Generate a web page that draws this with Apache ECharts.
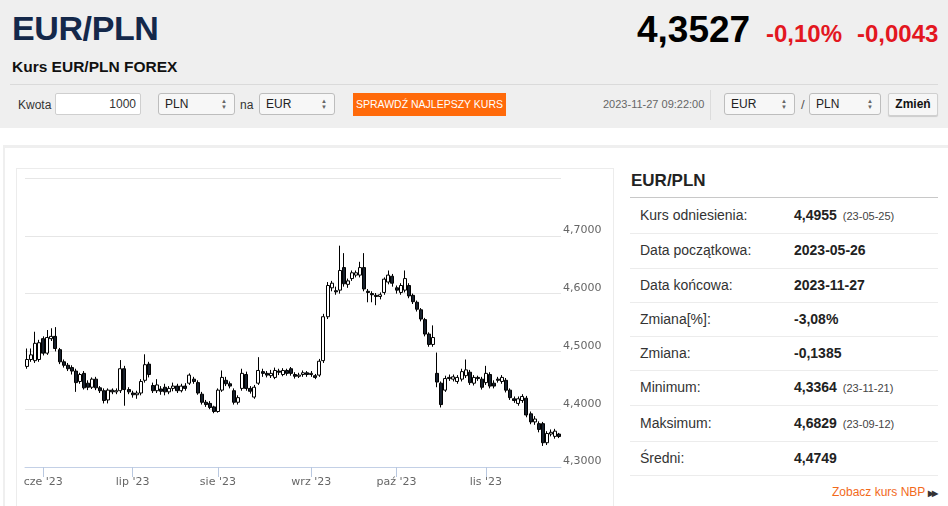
<!DOCTYPE html>
<html>
<head>
<meta charset="utf-8">
<title>Kurs EUR/PLN FOREX</title>
<script src="https://cdn.jsdelivr.net/npm/echarts@6/dist/echarts.min.js"></script>
<style>
  html, body { margin: 0; padding: 0; }
  body { width: 948px; height: 506px; position: relative; overflow: hidden; background: #fff;
         font-family: "Liberation Sans", Arial, sans-serif; color: #333; }
  .abs { position: absolute; }
  #top { left: 0; top: 0; width: 948px; height: 128px; background: #efefef; }
  #pair { left: 12px; top: 9px; font-size: 34px; font-weight: bold; color: #14284a; letter-spacing: -0.4px; }
  #sub { left: 12px; top: 58px; font-size: 15.5px; font-weight: bold; color: #111; }
  #price { left: 637px; top: 9px; font-size: 37px; font-weight: bold; color: #000; }
  .chg { top: 20px; font-size: 24px; font-weight: bold; color: #e3171f; }
  #sep { left: 10px; top: 84px; width: 928px; height: 1px; background: #dadada; }
  .lbl { font-size: 12px; color: #333; }
  .inp { height: 22px; background: #fff; border: 1px solid #cfcfcf; border-radius: 2px; box-sizing: border-box;
         font-size: 12px; line-height: 20px; text-align: right; padding-right: 4px; }
  .sel { height: 22px; background: #f7f7f7; border: 1px solid #bdbdbd; border-radius: 3px; box-sizing: border-box;
         font-size: 12px; line-height: 20px; padding-left: 6px; color: #222; }
  .sel span { position: absolute; right: 7px; top: 4px; font-size: 6px; color: #666; line-height: 6px; }
  #btn { left: 353px; top: 93px; width: 153px; height: 23px; background: #ff6a0a; color: #fff;
         font-size: 10.5px; line-height: 23px; text-align: center; }
  #stamp { left: 603px; top: 98px; font-size: 11px; color: #666; }
  #vsep { left: 710px; top: 90px; width: 1px; height: 30px; background: #dcdcdc; }
  #zmien { left: 888px; top: 93px; width: 50px; height: 23px; background: #f6f6f6; border: 1px solid #d0d0d0;
           border-radius: 2px; box-sizing: border-box; font-size: 12px; font-weight: bold; line-height: 21px;
           text-align: center; color: #111; box-shadow: 0 1px 1px rgba(0,0,0,0.15); }
  #card { left: 3px; top: 145px; width: 945px; height: 361px; border-top: 3px solid #efefef; border-left: 2px solid #efefef; box-sizing: border-box; }
  #box { left: 16px; top: 168px; width: 598px; height: 340px; border: 1px solid #ececec; box-sizing: border-box; }
  #chart { left: 16px; top: 168px; width: 598px; height: 338px; }
  #ptitle { left: 631px; top: 171px; font-size: 17px; font-weight: bold; color: #222; }
  #pline { left: 630px; top: 197px; width: 308px; height: 1px; background: #c8c8c8; }
  .rline { left: 630px; width: 308px; height: 1px; background: #ececec; }
  .rlab { left: 640px; font-size: 14px; color: #333; }
  .rval { left: 794px; font-size: 14px; font-weight: bold; color: #222; }
  .rval small { font-size: 11px; font-weight: normal; color: #444; margin-left: 6px; }
  #nbp { left: 832px; top: 485px; font-size: 12px; color: #f26a1b; }
  #nbp b { color: #333; font-size: 8px; margin-left: 3px; letter-spacing: -2px; }
</style>
</head>
<body>
<div id="top" class="abs"></div>
<div id="pair" class="abs">EUR/PLN</div>
<div id="sub" class="abs">Kurs EUR/PLN FOREX</div>
<div id="price" class="abs">4,3527</div>
<div class="abs chg" style="left:766px">-0,10%</div>
<div class="abs chg" style="left:857px">-0,0043</div>
<div id="sep" class="abs"></div>

<div class="abs lbl" style="left:18px;top:98px">Kwota</div>
<div class="abs inp" style="left:55px;top:93px;width:86px">1000</div>
<div class="abs sel" style="left:158px;top:93px;width:77px">PLN<span>&#9650;<br>&#9660;</span></div>
<div class="abs lbl" style="left:240px;top:98px">na</div>
<div class="abs sel" style="left:259px;top:93px;width:76px">EUR<span>&#9650;<br>&#9660;</span></div>
<div id="btn" class="abs">SPRAWDŹ NAJLEPSZY KURS</div>
<div id="stamp" class="abs">2023-11-27 09:22:00</div>
<div id="vsep" class="abs"></div>
<div class="abs sel" style="left:724px;top:93px;width:71px">EUR<span>&#9650;<br>&#9660;</span></div>
<div class="abs lbl" style="left:801px;top:97px;font-size:13px;color:#555">/</div>
<div class="abs sel" style="left:809px;top:93px;width:72px">PLN<span>&#9650;<br>&#9660;</span></div>
<div id="zmien" class="abs">Zmień</div>

<div id="card" class="abs"></div>
<div id="box" class="abs"></div>
<div id="chart" class="abs"></div>

<div id="ptitle" class="abs">EUR/PLN</div>
<div id="pline" class="abs"></div>
<div id="rows"></div>
<div id="nbp" class="abs">Zobacz kurs NBP<b>&#9654;&#9654;</b></div>

<script>
// dni notowań 2023-05-26 .. 2023-11-27 (bez weekendów)
const startDate = '2023-05-26';
const endDate = '2023-11-27';
const monthNames = ['sty', 'lut', 'mar', 'kwi', 'maj', 'cze', 'lip', 'sie', 'wrz', 'paź', 'lis', 'gru'];

// świece: otwarcie, zamknięcie, minimum, maksimum
const openVals = [
  4.474, 4.486, 4.484, 4.486, 4.522, 4.497, 4.522, 4.526, 4.503, 4.482,
  4.476, 4.472, 4.466, 4.448, 4.462, 4.445, 4.438, 4.452, 4.437, 4.432,
  4.416, 4.433, 4.430, 4.432, 4.470, 4.434, 4.428, 4.425, 4.428, 4.450,
  4.478, 4.441, 4.432, 4.435, 4.438, 4.430, 4.436, 4.440, 4.432, 4.440,
  4.445, 4.452, 4.446, 4.426, 4.412, 4.410, 4.404, 4.396, 4.433, 4.450,
  4.444, 4.432, 4.412, 4.436, 4.460, 4.436, 4.421, 4.445, 4.465, 4.462,
  4.458, 4.455, 4.466, 4.460, 4.467, 4.470, 4.460, 4.457, 4.460, 4.463,
  4.460, 4.458, 4.459, 4.484, 4.560, 4.610, 4.605, 4.606, 4.645, 4.616,
  4.626, 4.632, 4.632, 4.645, 4.604, 4.600, 4.597, 4.595, 4.602, 4.620,
  4.630, 4.610, 4.602, 4.606, 4.614, 4.597, 4.585, 4.572, 4.555, 4.530,
  4.512, 4.462, 4.445, 4.433, 4.453, 4.452, 4.448, 4.452, 4.458, 4.464,
  4.445, 4.455, 4.452, 4.446, 4.460, 4.445, 4.452, 4.448, 4.450, 4.433,
  4.418, 4.410, 4.415, 4.419, 4.392, 4.378, 4.375, 4.375, 4.342, 4.357,
  4.353, 4.357
];
const closeVals = [
  4.486, 4.494, 4.514, 4.515, 4.497, 4.524, 4.526, 4.505, 4.482, 4.476,
  4.470, 4.466, 4.446, 4.460, 4.437, 4.438, 4.452, 4.437, 4.432, 4.415,
  4.433, 4.430, 4.432, 4.470, 4.434, 4.430, 4.425, 4.428, 4.448, 4.477,
  4.460, 4.432, 4.442, 4.431, 4.430, 4.436, 4.440, 4.432, 4.440, 4.436,
  4.459, 4.448, 4.428, 4.412, 4.408, 4.403, 4.396, 4.433, 4.455, 4.444,
  4.440, 4.412, 4.420, 4.462, 4.436, 4.431, 4.438, 4.467, 4.462, 4.459,
  4.462, 4.467, 4.464, 4.467, 4.462, 4.462, 4.457, 4.459, 4.463, 4.460,
  4.462, 4.455, 4.483, 4.560, 4.614, 4.618, 4.603, 4.640, 4.617, 4.622,
  4.636, 4.636, 4.645, 4.608, 4.602, 4.598, 4.595, 4.598, 4.625, 4.632,
  4.618, 4.606, 4.614, 4.626, 4.596, 4.586, 4.573, 4.556, 4.530, 4.512,
  4.524, 4.447, 4.408, 4.453, 4.455, 4.456, 4.455, 4.465, 4.468, 4.446,
  4.455, 4.453, 4.438, 4.462, 4.440, 4.440, 4.450, 4.455, 4.433, 4.420,
  4.415, 4.418, 4.422, 4.390, 4.378, 4.383, 4.365, 4.342, 4.358, 4.360,
  4.362, 4.3527
];
const lowVals = [
  4.470, 4.482, 4.480, 4.482, 4.493, 4.494, 4.518, 4.500, 4.478, 4.472,
  4.466, 4.460, 4.430, 4.444, 4.434, 4.433, 4.435, 4.433, 4.428, 4.410,
  4.410, 4.426, 4.426, 4.428, 4.406, 4.426, 4.420, 4.418, 4.424, 4.446,
  4.455, 4.428, 4.428, 4.425, 4.424, 4.426, 4.431, 4.428, 4.429, 4.432,
  4.442, 4.444, 4.425, 4.408, 4.404, 4.400, 4.393, 4.394, 4.430, 4.440,
  4.436, 4.408, 4.408, 4.432, 4.432, 4.427, 4.418, 4.442, 4.456, 4.455,
  4.454, 4.452, 4.459, 4.457, 4.458, 4.458, 4.453, 4.454, 4.456, 4.456,
  4.456, 4.452, 4.456, 4.480, 4.556, 4.604, 4.598, 4.600, 4.612, 4.610,
  4.622, 4.628, 4.628, 4.604, 4.585, 4.585, 4.580, 4.590, 4.598, 4.616,
  4.612, 4.600, 4.598, 4.602, 4.592, 4.582, 4.569, 4.552, 4.526, 4.508,
  4.508, 4.438, 4.403, 4.430, 4.449, 4.448, 4.444, 4.448, 4.454, 4.442,
  4.441, 4.449, 4.434, 4.442, 4.436, 4.436, 4.446, 4.444, 4.429, 4.416,
  4.411, 4.406, 4.411, 4.386, 4.374, 4.373, 4.360, 4.3364, 4.338, 4.353,
  4.349, 4.350
];
const highVals = [
  4.505, 4.505, 4.534, 4.520, 4.526, 4.537, 4.540, 4.542, 4.506, 4.486,
  4.480, 4.476, 4.470, 4.463, 4.466, 4.450, 4.455, 4.456, 4.440, 4.436,
  4.436, 4.436, 4.436, 4.485, 4.475, 4.438, 4.432, 4.432, 4.452, 4.495,
  4.482, 4.446, 4.452, 4.440, 4.444, 4.440, 4.446, 4.444, 4.444, 4.445,
  4.462, 4.456, 4.450, 4.430, 4.416, 4.414, 4.406, 4.436, 4.467, 4.456,
  4.448, 4.436, 4.424, 4.470, 4.465, 4.440, 4.442, 4.490, 4.470, 4.466,
  4.468, 4.472, 4.470, 4.471, 4.470, 4.473, 4.464, 4.463, 4.467, 4.466,
  4.466, 4.461, 4.487, 4.565, 4.620, 4.622, 4.612, 4.6829, 4.670, 4.626,
  4.640, 4.640, 4.655, 4.670, 4.608, 4.604, 4.601, 4.602, 4.628, 4.640,
  4.634, 4.614, 4.618, 4.640, 4.618, 4.600, 4.588, 4.575, 4.558, 4.533,
  4.545, 4.498, 4.448, 4.458, 4.460, 4.460, 4.459, 4.470, 4.486, 4.468,
  4.459, 4.458, 4.456, 4.475, 4.464, 4.450, 4.456, 4.459, 4.454, 4.436,
  4.422, 4.422, 4.426, 4.423, 4.396, 4.388, 4.379, 4.378, 4.362, 4.365,
  4.366, 4.359
];

const yTicks = [4.3, 4.4, 4.5, 4.6, 4.7, 4.8];

// tabela po prawej
const statLabels = ['Kurs odniesienia:', 'Data początkowa:', 'Data końcowa:', 'Zmiana[%]:', 'Zmiana:', 'Minimum:', 'Maksimum:', 'Średni:'];
const statValues = ['4,4955', '2023-05-26', '2023-11-27', '-3,08%', '-0,1385', '4,3364', '4,6829', '4,4749'];
const statDates = ['(23-05-25)', '', '', '', '', '(23-11-21)', '(23-09-12)', ''];
const rowTextTop = [207, 242, 277, 311, 345, 379, 415, 450];
const rowLineTop = [233, 268, 302, 336, 370, 405, 441, 475];

let rowsHtml = '';
statLabels.forEach(function (lab, i) {
  rowsHtml += '<div class="abs rlab" style="top:' + rowTextTop[i] + 'px">' + lab + '</div>';
  rowsHtml += '<div class="abs rval" style="top:' + rowTextTop[i] + 'px">' + statValues[i] +
              (statDates[i] ? '<small>' + statDates[i] + '</small>' : '') + '</div>';
  rowsHtml += '<div class="abs rline" style="top:' + rowLineTop[i] + 'px"></div>';
});
document.getElementById('rows').innerHTML = rowsHtml;

// kategorie osi X: dni robocze
const dates = [];
for (let d = new Date(startDate + 'T12:00:00Z'); d <= new Date(endDate + 'T12:00:00Z'); d.setUTCDate(d.getUTCDate() + 1)) {
  const wd = d.getUTCDay();
  if (wd !== 0 && wd !== 6) dates.push(d.toISOString().slice(0, 10));
}

function isMonthStart(index) {
  return index > 0 && dates[index].slice(5, 7) !== dates[index - 1].slice(5, 7);
}

const candles = dates.map(function (d, i) {
  return [openVals[i], closeVals[i], lowVals[i], highVals[i]];
});

const chart = echarts.init(document.getElementById('chart'));
chart.setOption({
  animation: false,
  grid: { left: 9, right: 53, top: 10, bottom: 39 },
  xAxis: {
    type: 'category',
    data: dates,
    boundaryGap: true,
    axisLine: { lineStyle: { color: '#c3d0e6', width: 1 } },
    axisTick: {
      show: true,
      alignWithLabel: true,
      interval: function (index) { return isMonthStart(index); },
      length: 10,
      lineStyle: { color: '#b9c8e0', width: 1 }
    },
    axisLabel: {
      interval: function (index) { return isMonthStart(index); },
      margin: 10,
      color: '#666',
      fontSize: 11,
      fontFamily: 'DejaVu Sans',
      formatter: function (v) {
        return monthNames[parseInt(v.slice(5, 7), 10) - 1] + " '" + v.slice(2, 4);
      }
    },
    splitLine: { show: false }
  },
  yAxis: {
    type: 'value',
    position: 'right',
    min: yTicks[0],
    max: yTicks[yTicks.length - 1],
    interval: 0.1,
    axisLine: { show: false },
    axisTick: { show: false },
    axisLabel: {
      margin: 2,
      align: 'left',
      verticalAlign: 'bottom',
      color: '#666',
      fontSize: 11,
      fontFamily: 'DejaVu Sans',
      formatter: function (v) {
        if (Math.abs(v - 4.8) < 1e-6) return '';
        return v.toFixed(4).replace('.', ',');
      }
    },
    splitLine: { lineStyle: { color: '#e6e6e6', width: 1 } }
  },
  series: [{
    type: 'candlestick',
    data: candles,
    barWidth: 3.5,
    itemStyle: {
      color: '#ffffff',
      color0: '#17202c',
      borderColor: '#000000',
      borderColor0: '#000000',
      borderWidth: 1
    }
  }]
});
</script>
</body>
</html>
